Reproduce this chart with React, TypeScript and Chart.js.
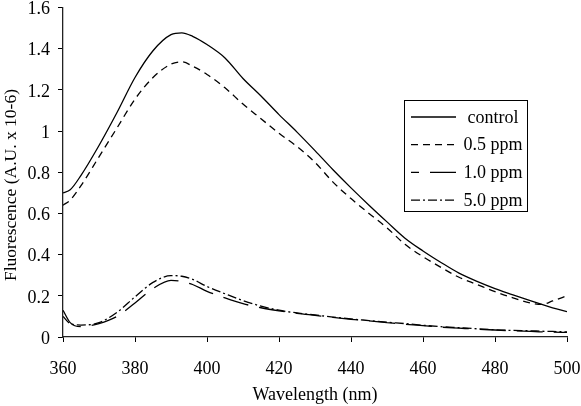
import React, { useEffect, useRef } from "react";
import { Chart, registerables } from "chart.js";

Chart.register(...registerables);

// ---- data ----
const wavelengths = [360, 362, 365, 370, 375, 380, 385, 390, 393, 396, 400, 405, 410, 415, 420, 425, 430, 435, 440, 445, 450, 455, 460, 465, 470, 475, 480, 485, 490, 493, 496, 500];
const controlValues = [0.70, 0.715, 0.785, 0.93, 1.09, 1.26, 1.39, 1.468, 1.477, 1.46, 1.42, 1.355, 1.255, 1.17, 1.08, 0.995, 0.905, 0.812, 0.724, 0.64, 0.559, 0.48, 0.418, 0.362, 0.31, 0.27, 0.235, 0.205, 0.175, 0.158, 0.142, 0.123];
const ppm05Values = [0.64, 0.665, 0.735, 0.875, 1.015, 1.155, 1.26, 1.325, 1.336, 1.315, 1.275, 1.21, 1.131, 1.06, 0.989, 0.925, 0.848, 0.752, 0.672, 0.60, 0.53, 0.45, 0.39, 0.338, 0.29, 0.255, 0.22, 0.19, 0.165, 0.158, 0.175, 0.20];
const ppm10Values = [0.13, 0.07, 0.05, 0.065, 0.10, 0.165, 0.235, 0.275, 0.27, 0.255, 0.222, 0.19, 0.162, 0.142, 0.127, 0.115, 0.105, 0.095, 0.086, 0.078, 0.07, 0.062, 0.055, 0.048, 0.043, 0.038, 0.034, 0.03, 0.027, 0.025, 0.024, 0.022];
const ppm50Values = [0.10, 0.065, 0.058, 0.07, 0.12, 0.195, 0.265, 0.298, 0.295, 0.28, 0.245, 0.21, 0.177, 0.15, 0.13, 0.117, 0.107, 0.097, 0.088, 0.08, 0.072, 0.065, 0.057, 0.05, 0.045, 0.04, 0.035, 0.032, 0.03, 0.028, 0.027, 0.025];
const seriesLabels = ["control", "0.5 ppm", "1.0 ppm", "5.0 ppm"];
const xTickValues = [360, 380, 400, 420, 440, 460, 480, 500];
const yTickValues = [0, 0.2, 0.4, 0.6, 0.8, 1, 1.2, 1.4, 1.6];
const xAxisTitle = "Wavelength (nm)";
const yAxisTitle = "Fluorescence (A.U. x 10-6)";

const FONT = '"Liberation Serif", "DejaVu Serif", serif';
const seriesValues = [controlValues, ppm05Values, ppm10Values, ppm50Values];
const seriesDash: number[][] = [[], [7, 5], [26, 11], [9, 3, 2, 3]];
const legendDashOffset = [0, 0, 18, 0];

const overlayPlugin = {
  id: "overlay",
  afterDraw(chart: any) {
    const ctx = chart.ctx as CanvasRenderingContext2D;
    const area = chart.chartArea;
    ctx.save();
    ctx.fillStyle = "#000";
    ctx.textAlign = "center";
    ctx.textBaseline = "middle";
    ctx.font = `18px ${FONT}`;
    ctx.fillText(xAxisTitle, (area.left + area.right) / 2, 395);
    ctx.save();
    ctx.translate(11, 185);
    ctx.rotate(-Math.PI / 2);
    ctx.font = `17.5px ${FONT}`;
    ctx.fillText(yAxisTitle, 0, 0);
    ctx.restore();

    // legend box
    const bx = 404, by = 100, bw = 123, bh = 111;
    ctx.fillStyle = "#fff";
    ctx.fillRect(bx, by, bw, bh);
    ctx.strokeStyle = "#000";
    ctx.lineWidth = 1;
    ctx.strokeRect(bx + 0.5, by + 0.5, bw, bh);
    chart.data.datasets.forEach((ds: any, i: number) => {
      const cy = by + 17 + i * 27.7;
      ctx.save();
      ctx.strokeStyle = "#000";
      ctx.lineWidth = ds.borderWidth;
      ctx.setLineDash(ds.borderDash || []);
      ctx.lineDashOffset = legendDashOffset[i];
      ctx.beginPath();
      ctx.moveTo(411, cy);
      ctx.lineTo(456, cy);
      ctx.stroke();
      ctx.restore();
      ctx.fillStyle = "#000";
      ctx.font = `18px ${FONT}`;
      ctx.textAlign = "center";
      ctx.textBaseline = "middle";
      ctx.fillText(ds.label, 493, cy + 1);
    });
    ctx.restore();
  },
};

export default function App() {
  const canvasRef = useRef<HTMLCanvasElement | null>(null);

  useEffect(() => {
    document.body.style.margin = "0";
    const canvas = canvasRef.current;
    if (!canvas) return;
    let chart: Chart | null = null;
    let cancelled = false;
    const build = () => {
      if (cancelled) return;
      chart = new Chart(canvas, {
        type: "line",
        data: {
          datasets: seriesLabels.map((label, i) => ({
            label,
            data: wavelengths.map((x, j) => ({ x, y: seriesValues[i][j] })),
            borderColor: "#000",
            backgroundColor: "#000",
            borderWidth: 1.3,
            borderDash: seriesDash[i],
            pointRadius: 0,
            fill: false,
            cubicInterpolationMode: "monotone" as const,
          })),
        },
        options: {
          responsive: false,
          animation: false,
          devicePixelRatio: 1,
          layout: { padding: { top: 7.5, right: 14, left: 0, bottom: 0 } },
          plugins: {
            legend: { display: false },
            tooltip: { enabled: false },
          },
          scales: {
            x: {
              type: "linear",
              min: 360,
              max: 500,
              afterBuildTicks: (s: any) => {
                s.ticks = xTickValues.map((v) => ({ value: v }));
              },
              afterFit: (s: any) => {
                s.height = 69;
                s.paddingLeft = 0;
                s.paddingRight = 0;
              },
              ticks: {
                font: { family: FONT, size: 18 },
                color: "#000",
                padding: 16,
                maxRotation: 0,
                callback: (v: any) => String(v),
              },
              grid: { drawOnChartArea: false, drawTicks: true, tickLength: 5, color: "#000", lineWidth: 1 },
              border: { display: true, color: "#222", width: 1.3 },
            },
            y: {
              min: 0,
              max: 1.6,
              afterBuildTicks: (s: any) => {
                s.ticks = yTickValues.map((v) => ({ value: v }));
              },
              afterFit: (s: any) => {
                s.width = 63;
                s.paddingTop = 0;
                s.paddingBottom = 0;
              },
              ticks: {
                font: { family: FONT, size: 18 },
                color: "#000",
                padding: 8,
                labelOffset: 2,
                callback: (v: any) => String(Number(Number(v).toFixed(1))),
              },
              grid: { drawOnChartArea: false, drawTicks: true, tickLength: 5, color: "#000", lineWidth: 1 },
              border: { display: true, color: "#222", width: 1.3 },
            },
          },
        },
        plugins: [overlayPlugin],
      });
    };
    const fonts: any = (document as any).fonts;
    if (fonts && fonts.load) {
      Promise.all([
        fonts.load('18px "Liberation Serif"'),
        fonts.load('17px "Liberation Serif"'),
      ])
        .catch(() => null)
        .then(() => build());
    } else {
      build();
    }
    return () => {
      cancelled = true;
      if (chart) chart.destroy();
    };
  }, []);

  return (
    <div style={{ width: 581, height: 406, background: "#fff" }}>
      <span style={{ fontFamily: '"Liberation Serif"', position: "absolute", left: -1000, top: -1000 }}>.</span>
      <canvas ref={canvasRef} width={581} height={406} style={{ display: "block" }} />
    </div>
  );
}
